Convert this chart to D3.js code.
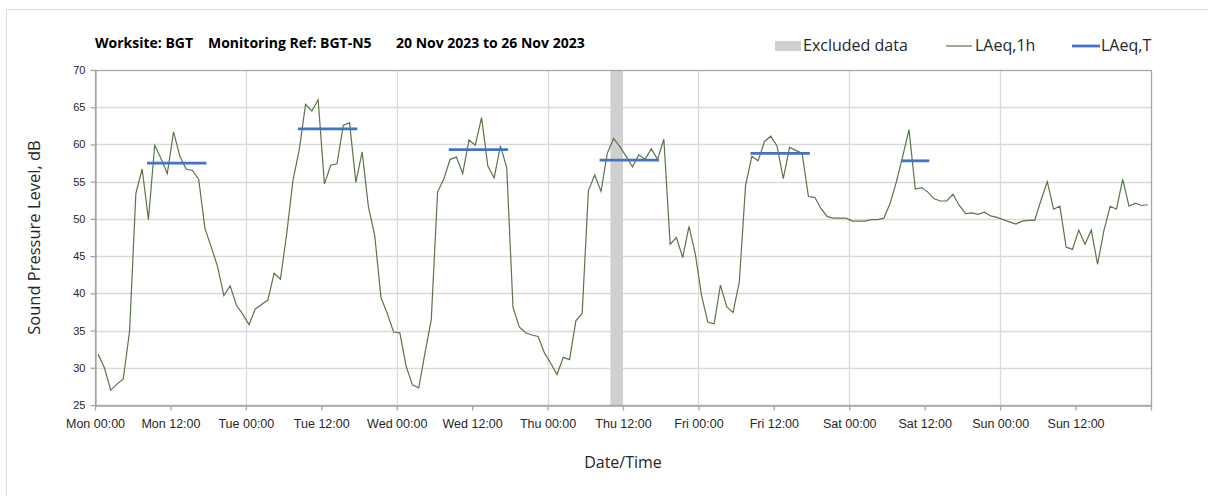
<!DOCTYPE html>
<html>
<head>
<meta charset="utf-8">
<script src="https://cdn.jsdelivr.net/npm/d3@7"></script>
<style>
  html, body { margin: 0; padding: 0; background: #ffffff; }
  svg { display: block; font-family: "Open Sans", "Noto Sans", sans-serif; }
</style>
</head>
<body>
<div id="chart"></div>
<script>
// --- Data ---
const days = ["Mon", "Tue", "Wed", "Thu", "Fri", "Sat", "Sun"];

// hourly LAeq,1h, Mon 00:00 onwards (one value per hour)
const laeq1h = [
  31.8, 30.0, 27.0, 27.8, 28.5, 34.9, 53.4, 56.7, 49.9, 59.9, 58.1, 56.1,
  61.7, 58.4, 56.7, 56.5, 55.3, 48.7, 46.2, 43.6, 39.7, 41.0, 38.4, 37.2,
  35.8, 37.9, 38.5, 39.1, 42.7, 41.9, 48.0, 55.2, 59.3, 65.4, 64.5, 66.0,
  54.7, 57.2, 57.4, 62.6, 62.9, 54.9, 59.0, 51.6, 47.8, 39.4, 37.3, 34.8,
  34.7, 30.2, 27.7, 27.3, 32.0, 36.5, 53.6, 55.4, 58.0, 58.3, 56.1, 60.6,
  59.9, 63.6, 57.1, 55.5, 59.8, 56.9, 38.1, 35.5, 34.7, 34.4, 34.2, 32.0,
  30.6, 29.1, 31.4, 31.1, 36.3, 37.3, 53.8, 55.9, 53.7, 58.8, 60.8, 59.7,
  58.4, 57.0, 58.6, 58.0, 59.4, 58.0, 60.7, 46.6, 47.5, 44.8, 49.0, 45.3,
  39.7, 36.1, 35.9, 41.1, 38.2, 37.4, 41.5, 54.5, 58.4, 57.8, 60.4, 61.1,
  59.8, 55.4, 59.6, 59.2, 58.8, 53.0, 52.9, 51.4, 50.3, 50.1, 50.1, 50.1,
  49.7, 49.7, 49.7, 49.9, 49.9, 50.1, 52.1, 55.0, 58.4, 62.0, 54.0, 54.2,
  53.6, 52.7, 52.4, 52.4, 53.3, 51.8, 50.7, 50.8, 50.6, 50.9, 50.4, 50.2,
  49.9, 49.6, 49.3, 49.7, 49.8, 49.8, 52.5, 55.0, 51.3, 51.7, 46.2, 45.9,
  48.5, 46.6, 48.5, 43.9, 48.4, 51.7, 51.3, 55.3, 51.7, 52.1, 51.8, 51.9
];

// LAeq,T over the working period of each day
const periodDay = [0, 1, 2, 3, 4, 5];
const periodStart = [8, 8, 8, 8, 8, 8];
const periodEnd = [18, 18, 18, 18, 18, 13];
const laeqT = [57.5, 62.1, 59.3, 57.9, 58.8, 57.8];

// excluded data, hours from Mon 00:00
const excludedStart = [82];
const excludedEnd = [84];

const yTicks = [25, 30, 35, 40, 45, 50, 55, 60, 65, 70];

// --- Layout ---
const width = 1208, height = 496;
const margin = { left: 95, right: 57, top: 70, bottom: 91 };
const lineColor = "#5a7548";
const blue = "#4472c4";
const axisGrey = "#a6a6a6";
const gridGrey = "#d9d9d9";
const textColor = "#262626";

const svg = d3.select("#chart").append("svg")
  .attr("width", width)
  .attr("height", height);

// chart frame
svg.append("rect")
  .attr("x", 6.5).attr("y", 9.5)
  .attr("width", width + 10).attr("height", height + 10)
  .attr("fill", "none")
  .attr("stroke", gridGrey);

const x = d3.scaleLinear().domain([0, 168]).range([margin.left, width - margin.right]);
const y = d3.scaleLinear().domain([25, 70]).range([height - margin.bottom, margin.top]);

const plot = svg.append("g");

// horizontal gridlines
plot.selectAll(".hgrid")
  .data(yTicks.slice(1, -1))
  .join("line")
  .attr("x1", x(0)).attr("x2", x(168))
  .attr("y1", d => Math.round(y(d)) + 0.5).attr("y2", d => Math.round(y(d)) + 0.5)
  .attr("stroke", gridGrey).attr("stroke-width", 1.3);

// vertical gridlines at midnight
plot.selectAll(".vgrid")
  .data(d3.range(24, 168, 24))
  .join("line")
  .attr("x1", d => Math.round(x(d)) + 0.5).attr("x2", d => Math.round(x(d)) + 0.5)
  .attr("y1", y(70)).attr("y2", y(25))
  .attr("stroke", gridGrey).attr("stroke-width", 1.3);

// excluded band
plot.selectAll(".excluded")
  .data(excludedStart.map((s, i) => [s, excludedEnd[i]]))
  .join("rect")
  .attr("x", d => x(d[0]))
  .attr("width", d => x(d[1]) - x(d[0]))
  .attr("y", y(70))
  .attr("height", y(25) - y(70))
  .attr("fill", "#d0d0d0");

// plot border
svg.append("rect")
  .attr("x", Math.round(x(0)) + 0.5).attr("y", Math.round(y(70)) + 0.5)
  .attr("width", Math.round(x(168)) - Math.round(x(0)))
  .attr("height", Math.round(y(25)) - Math.round(y(70)))
  .attr("fill", "none")
  .attr("stroke", axisGrey).attr("stroke-width", 1.3);

// LAeq,1h line (value plotted at middle of its hour)
const line = d3.line()
  .x((d, i) => x(i + 0.5))
  .y(d => y(d));

svg.append("path")
  .datum(laeq1h)
  .attr("d", line)
  .attr("fill", "none")
  .attr("stroke", lineColor)
  .attr("stroke-width", 1.2)
  .attr("stroke-linejoin", "miter");

// LAeq,T bars
svg.selectAll(".laeqT")
  .data(laeqT.map((v, i) => ({
    start: periodDay[i] * 24 + periodStart[i] + 0.5,
    end: periodDay[i] * 24 + periodEnd[i] - 0.5,
    v
  })))
  .join("line")
  .attr("x1", d => x(d.start)).attr("x2", d => x(d.end))
  .attr("y1", d => y(d.v)).attr("y2", d => y(d.v))
  .attr("stroke", blue)
  .attr("stroke-width", 2.8)
  .attr("stroke-linecap", "square");

// axes
const xAxis = d3.axisBottom(x)
  .tickValues(d3.range(0, 169, 12))
  .tickSize(5)
  .tickSizeOuter(0)
  .tickFormat(h => h >= 168 ? "" : `${days[Math.floor(h / 24)]} ${h % 24 === 0 ? "00:00" : "12:00"}`);

const gx = svg.append("g")
  .attr("transform", `translate(0,${Math.round(y(25)) + 0.5})`)
  .call(xAxis);

const yAxis = d3.axisLeft(y)
  .tickValues(yTicks)
  .tickSize(5)
  .tickSizeOuter(0)
  .tickFormat(d3.format("d"));

const gy = svg.append("g")
  .attr("transform", `translate(${Math.round(x(0)) + 0.5},0)`)
  .call(yAxis);

[gx, gy].forEach(g => {
  g.select(".domain").attr("stroke", axisGrey).attr("stroke-width", 1.3);
  g.selectAll(".tick line").attr("stroke", axisGrey).attr("stroke-width", 1.3);
  g.selectAll(".tick text")
    .attr("fill", textColor)
    .style("font-size", "12.5px");
});
gx.selectAll(".tick text").attr("dy", "1.15em");
gy.selectAll(".tick text").attr("x", -10).style("font-size", "11px");

// axis titles
svg.append("text")
  .attr("x", (x(0) + x(168)) / 2)
  .attr("y", 468)
  .attr("text-anchor", "middle")
  .attr("fill", textColor)
  .style("font-size", "16px")
  .text("Date/Time");

svg.append("text")
  .attr("transform", `translate(40,${(y(25) + y(70)) / 2}) rotate(-90)`)
  .attr("text-anchor", "middle")
  .attr("fill", textColor)
  .style("font-size", "16.5px")
  .text("Sound Pressure Level, dB");

// title
const titleParts = [
  { text: "Worksite: BGT", x: 95 },
  { text: "Monitoring Ref: BGT-N5", x: 208 },
  { text: "20 Nov 2023 to 26 Nov 2023", x: 396 }
];
svg.selectAll(".title")
  .data(titleParts)
  .join("text")
  .attr("x", d => d.x)
  .attr("y", 48)
  .attr("fill", "#000000")
  .style("font-size", "14px")
  .style("font-weight", "bold")
  .text(d => d.text);

// legend
const legend = svg.append("g");
legend.append("rect")
  .attr("x", 775).attr("y", 41)
  .attr("width", 26).attr("height", 10)
  .attr("fill", "#d0d0d0");
legend.append("text")
  .attr("x", 803).attr("y", 51)
  .attr("fill", textColor).style("font-size", "16px")
  .text("Excluded data");

legend.append("line")
  .attr("x1", 946).attr("x2", 972).attr("y1", 46).attr("y2", 46)
  .attr("stroke", lineColor).attr("stroke-width", 1.2);
legend.append("text")
  .attr("x", 975).attr("y", 51)
  .attr("fill", textColor).style("font-size", "16px")
  .text("LAeq,1h");

legend.append("line")
  .attr("x1", 1072).attr("x2", 1100).attr("y1", 46).attr("y2", 46)
  .attr("stroke", blue).attr("stroke-width", 2.8);
legend.append("text")
  .attr("x", 1101).attr("y", 51)
  .attr("fill", textColor).style("font-size", "16px")
  .text("LAeq,T");
</script>
</body>
</html>
